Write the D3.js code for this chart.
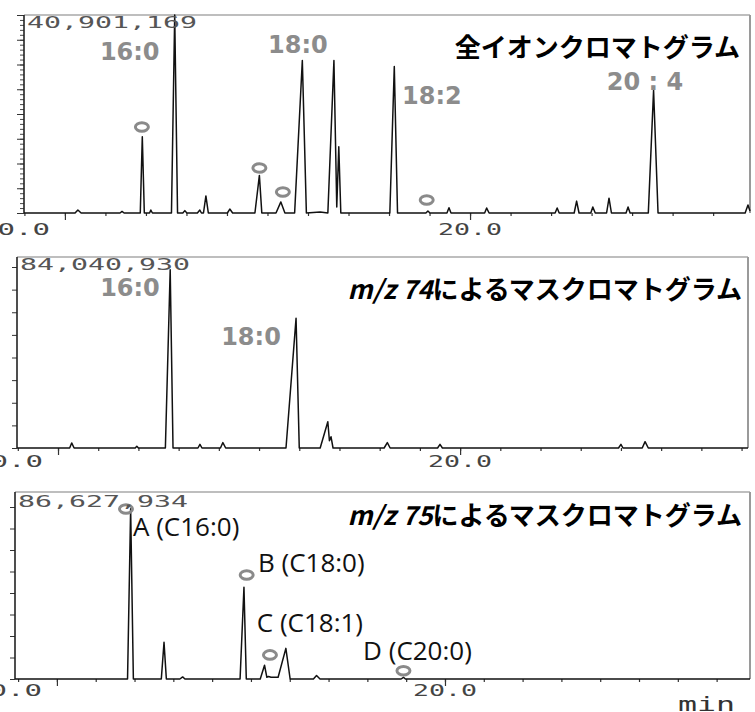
<!DOCTYPE html>
<html><head><meta charset="utf-8">
<script src="https://cdn.jsdelivr.net/npm/d3@7"></script>
<style>body{margin:0;background:#fff}</style>
</head><body><svg id="c" width="755" height="712"></svg>
<script>
// ---- data (time in min, intensity relative to full scale) ----
const ticTrace = [[8.99,0],[10.25,0],[10.32,0.015],[10.40,0],[11.36,0],[11.41,0.008],[11.46,0],
 [11.86,0],[11.91,0.385],[11.96,0],[12.09,0],[12.12,0.015],[12.16,0],[12.63,0],[12.71,1.0],[12.78,0],
 [12.91,0],[12.96,0.012],[13.01,0],[13.27,0],[13.33,0.015],[13.37,0],[13.42,0],[13.48,0.086],[13.54,0],
 [14.01,0],[14.07,0.02],[14.14,0],[14.69,0],[14.80,0.19],[14.86,0],[15.21,0],[15.33,0.056],[15.43,0],
 [15.67,0],[15.86,0.77],[15.96,0],[16.30,0.005],[16.49,0],[16.64,0.77],[16.71,0.03],[16.76,0.335],[16.81,0],
 [18.02,0],[18.13,0.74],[18.21,0],[18.91,0],[18.96,0.01],[19.01,0],[19.43,0],[19.48,0.027],[19.53,0],
 [20.36,0],[20.41,0.025],[20.47,0],[22.10,0],[22.15,0.025],[22.20,0],[22.57,0],[22.63,0.06],[22.69,0],
 [22.98,0],[23.03,0.03],[23.09,0],[23.37,0],[23.43,0.075],[23.49,0],[23.85,0],[23.90,0.03],[23.95,0],
 [24.40,0],[24.53,0.62],[24.64,0],[26.79,0],[26.86,0.04],[26.91,0.01]];
const mz74Trace = [[8.98,0],[10.29,0],[10.34,0.028],[10.40,0],[11.92,0],[11.96,0.01],[12.00,0],
 [12.67,0],[12.79,0.985],[12.86,0],[13.48,0],[13.53,0.02],[13.58,0],[14.04,0],[14.10,0.03],[14.17,0],
 [15.67,0],[15.92,0.717],[16.00,0],[16.52,0],[16.71,0.145],[16.75,0.04],[16.79,0.062],[16.84,0],
 [18.11,0],[18.19,0.03],[18.26,0],[19.44,0],[19.50,0.02],[19.56,0],[23.94,0],[24.00,0.02],[24.05,0],
 [24.53,0],[24.60,0.035],[24.68,0],[27.16,0]];
const mz75Trace = [[8.92,0],[11.82,0],[11.90,0.99],[11.97,0],[12.69,0],[12.76,0.213],[12.82,0],
 [13.17,0],[13.24,0.012],[13.30,0],[14.72,0],[14.82,0.533],[14.88,0],[15.24,0],[15.35,0.08],[15.41,0.01],
 [15.45,0.015],[15.52,0.01],[15.70,0.01],[15.90,0.178],[16.01,0],[16.61,0],[16.69,0.02],[16.78,0],
 [18.87,0],[18.93,0.01],[18.98,0],[27.86,0]];

const ticMarkers = [[11.90,0.434],[14.80,0.227],[15.38,0.106],[18.93,0.066]];
const mz74Markers = [];
const mz75Markers = [[11.78,0.988],[14.89,0.605],[15.49,0.140],[18.93,0.048]];

const ticLabels = [["16:0",11.60,0.813],["18:0",15.75,0.848],["18:2",19.06,0.591],["20 : 4",24.32,0.662]];
const mz74Labels = [["16:0",11.79,0.884],["18:0",14.80,0.615]];
const mz75Labels = [["A (C16:0)",11.96,0.89],["B (C18:0)",15.18,0.682],["C (C18:1)",15.15,0.333],["D (C20:0)",17.89,0.169]];

const maxLabels = ["40,901,169","84,040,930","86,627,934"];
const titles = [["","全イオンクロマトグラム"],["m/z 74","によるマスクロマトグラム"],["m/z 75","によるマスクロマトグラム"]];
const xTickLabels = [[10,"10.0"],[20,"20.0"]];
const unitLabel = "min";

// ---- layout ----
const panels = [
 {trace:ticTrace, markers:ticMarkers, labels:ticLabels, cls:"gray", maxLabel:maxLabels[0], title:titles[0],
  left:24,right:750,top:15,y1:15,base:213,dom:[8.99,26.91],minorY:true,tickLabY:230,maxY:23,titleY:45,titleX:740},
 {trace:mz74Trace, markers:mz74Markers, labels:mz74Labels, cls:"gray", maxLabel:maxLabels[1], title:titles[1],
  left:17,right:748,top:257,y1:267,base:448,dom:[8.98,27.16],minorY:false,tickLabY:462,maxY:265,titleY:287,titleX:742},
 {trace:mz75Trace, markers:mz75Markers, labels:mz75Labels, cls:"black", maxLabel:maxLabels[2], title:titles[2],
  left:15,right:750,top:492,y1:507,base:679,dom:[8.92,27.86],minorY:false,tickLabY:691,maxY:502,titleY:513,titleX:742}
];

const svg = d3.select("#c");
svg.append("rect").attr("width",755).attr("height",712).attr("fill","#fff");
const monoFont = "'DejaVu Sans Mono','Liberation Mono',monospace";

panels.forEach((p,i)=>{
  const g = svg.append("g");
  const x = d3.scaleLinear().domain(p.dom).range([p.left,p.right]);
  const y = d3.scaleLinear().domain([0,1]).range([p.base,p.y1]);

  // frame (top + right, gray)
  g.append("line").attr("x1",p.left).attr("x2",p.right).attr("y1",p.top).attr("y2",p.top)
    .attr("stroke","#a8a8a8").attr("stroke-width",1.3);
  g.append("line").attr("x1",p.right).attr("x2",p.right).attr("y1",p.top).attr("y2",p.base)
    .attr("stroke","#9a9a9a").attr("stroke-width",2);

  // y axis ticks
  const yMajor = d3.range(0,1.0001,0.125);
  if(p.minorY){
    const ya2 = g.append("g").attr("transform",`translate(${p.left},0)`)
      .call(d3.axisLeft(y).tickValues(d3.range(0,1.0001,0.025)).tickSize(4).tickFormat(""));
    ya2.select(".domain").remove();
    ya2.selectAll("line").attr("stroke","#333").attr("stroke-width",0.9);
  }
  const ya = g.append("g").attr("transform",`translate(${p.left},0)`)
    .call(d3.axisLeft(y).tickValues(yMajor).tickSize(p.minorY?7:5).tickFormat(""));
  ya.select(".domain").remove();
  ya.selectAll("line").attr("stroke","#333").attr("stroke-width",1);
  g.append("line").attr("x1",p.left).attr("x2",p.left).attr("y1",p.base).attr("y2",p.top)
    .attr("stroke","#222").attr("stroke-width",1.6);

  // x axis ticks
  const minT = d3.range(Math.ceil(p.dom[0]), Math.floor(p.dom[1])+1);
  const xa = g.append("g").attr("transform",`translate(0,${p.base})`)
    .call(d3.axisBottom(x).tickValues(minT).tickSize(3).tickFormat(""));
  xa.select(".domain").remove();
  xa.selectAll("line").attr("stroke","#333").attr("stroke-width",1.2);
  const xb = g.append("g").attr("transform",`translate(0,${p.base})`)
    .call(d3.axisBottom(x).tickValues(xTickLabels.map(d=>d[0])).tickSize(7).tickFormat(""));
  xb.select(".domain").remove();
  xb.selectAll("line").attr("stroke","#333").attr("stroke-width",1.2);

  // x tick labels
  xTickLabels.forEach(([v,t])=>{
    const first = v===10;
    g.append("text").text(t)
      .attr("x", first ? x(v)-15 : x(v)).attr("y",p.tickLabY)
      .attr("text-anchor", first?"end":"middle").attr("dominant-baseline","central")
      .attr("font-family",monoFont).attr("font-size",15).attr("fill","#444")
      .attr("textLength",first?70:64).attr("lengthAdjust","spacingAndGlyphs");
  });

  // trace
  g.append("path").datum(p.trace)
    .attr("d", d3.line().x(d=>x(d[0])).y(d=>y(d[1])))
    .attr("fill","none").attr("stroke","#111").attr("stroke-width",1.5).attr("stroke-linejoin","round");

  // markers
  g.selectAll("ellipse.m").data(p.markers).join("ellipse")
    .attr("cx",d=>x(d[0])).attr("cy",d=>y(d[1])).attr("rx",6.5).attr("ry",4.3)
    .attr("fill","none").attr("stroke","#8a8a8a").attr("stroke-width",3);

  // max label
  g.append("text").text(p.maxLabel).attr("x",p.left+3).attr("y",p.maxY)
    .attr("dominant-baseline","central").attr("font-family",monoFont).attr("font-size",15)
    .attr("fill","#555").attr("textLength",170).attr("lengthAdjust","spacingAndGlyphs");

  // peak labels
  if(p.cls==="gray"){
    p.labels.forEach(([t,tv,iv])=>{
      g.append("text").text(t).attr("x",x(tv)).attr("y",y(iv))
        .attr("text-anchor","middle").attr("dominant-baseline","central")
        .attr("font-family","'DejaVu Sans',sans-serif").attr("font-weight","bold")
        .attr("font-size",24).attr("fill","#8c8c8c");
    });
  } else {
    p.labels.forEach(([t,tv,iv])=>{
      g.append("text").text(t).attr("x",x(tv)).attr("y",y(iv))
        .attr("text-anchor","start").attr("dominant-baseline","central")
        .attr("font-family","'Open Sans','Noto Sans',sans-serif")
        .attr("font-size",26).attr("fill","#111");
    });
  }

  // title
  const tt = g.append("text").attr("x",p.titleX).attr("y",p.titleY)
    .attr("text-anchor","end").attr("dominant-baseline","central")
    .attr("font-family","'Noto Sans CJK JP',sans-serif").attr("font-weight","bold")
    .attr("font-size",26).attr("fill","#000");
  if(p.title[0]) tt.append("tspan").attr("font-style","italic").text(p.title[0]);
  tt.append("tspan").text(p.title[1]);

  if(i===2){
    g.append("text").text(unitLabel).attr("x",678).attr("y",704)
      .attr("dominant-baseline","central").attr("font-family",monoFont).attr("font-size",20)
      .attr("fill","#333").attr("textLength",57).attr("lengthAdjust","spacingAndGlyphs");
  }
});
</script></body></html>
